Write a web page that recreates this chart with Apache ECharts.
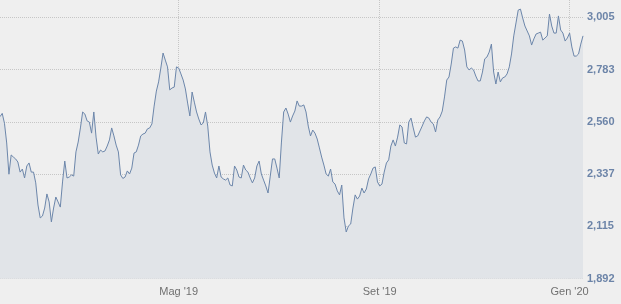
<!DOCTYPE html>
<html><head><meta charset="utf-8">
<script src="https://cdn.jsdelivr.net/npm/echarts@6/dist/echarts.min.js"></script>
<style>html,body{margin:0;padding:0;background:#efefef}#c{width:621px;height:304px}</style>
</head><body><div id="c"></div>
<script>
const values = [
2582,2596,2554,2470,2337,2419,2410,2402,2389,2346,
2359,2321,2372,2385,2346,2346,2300,2206,2151,2159,
2193,2253,2219,2134,2193,2240,2219,2197,2304,2393,
2321,2325,2334,2329,2432,2474,2534,2602,2593,2564,
2559,2512,2602,2495,2423,2440,2432,2436,2457,2483,
2534,2500,2461,2432,2334,2319,2325,2351,2338,2363,
2427,2432,2461,2500,2508,2512,2530,2534,2551,2627,
2691,2730,2789,2853,2823,2794,2696,2704,2708,2794,
2789,2764,2738,2700,2640,2585,2687,2644,2602,2572,
2547,2555,2602,2542,2432,2376,2342,2321,2372,2325,
2317,2312,2321,2291,2287,2372,2355,2325,2321,2376,
2355,2346,2321,2300,2321,2372,2393,2338,2312,2287,
2257,2329,2402,2402,2363,2321,2474,2602,2619,2593,
2559,2585,2606,2649,2627,2627,2632,2602,2542,2500,
2525,2512,2487,2449,2410,2376,2338,2329,2359,2304,
2295,2266,2249,2291,2151,2091,2117,2125,2193,2249,
2231,2244,2278,2257,2274,2317,2338,2363,2368,2304,
2287,2295,2346,2385,2398,2457,2483,2457,2495,2547,
2538,2470,2466,2559,2576,2534,2495,2500,2521,2542,
2564,2581,2576,2559,2551,2517,2568,2581,2606,2666,
2738,2751,2806,2874,2879,2874,2908,2904,2866,2794,
2781,2789,2781,2755,2734,2734,2772,2828,2836,2857,
2891,2772,2721,2772,2730,2747,2751,2764,2794,2849,
2926,2981,3036,3040,3002,2968,2947,2926,2887,2913,
2934,2938,2942,2908,2917,2926,3019,2968,2938,2938,
3011,2951,2938,2904,2917,2938,2879,2840,2840,2849,
2891,2926
];
const categories = values.map((_, i) => 'd' + i);
const tickLabels = ["Mag '19", "Set '19", "Gen '20"];
const tickPositions = [80, 170, 255];
const yMin = 1892.1, yMax = 3078.8, yHalfStep = 111.3;

const fmt = v => Math.round(v).toString().replace(/\B(?=(\d{3})+(?!\d))/g, ',');
const isTick = i => tickPositions.indexOf(i) >= 0;

const chart = echarts.init(document.getElementById('c'), null, {renderer: 'canvas'});
chart.setOption({
  backgroundColor: '#efefef',
  animation: false,
  grid: {left: 0, right: 38, top: 0, bottom: 25.3, containLabel: false},
  xAxis: {
    type: 'category',
    data: categories,
    boundaryGap: false,
    axisLine: {show: false},
    axisTick: {show: false},
    axisLabel: {
      interval: (i) => isTick(i),
      formatter: (v, i) => { const k = tickPositions.indexOf(i); return k >= 0 ? tickLabels[k] : ''; },
      color: '#707070', fontSize: 11, fontFamily: 'Liberation Sans, Arial, sans-serif', margin: 8
    },
    splitLine: {
      show: true,
      interval: (i) => isTick(i),
      lineStyle: {color: '#c6c6c6', type: 'dotted', width: 1}
    }
  },
  yAxis: {
    type: 'value',
    position: 'right',
    min: yMin, max: yMax, interval: yHalfStep,
    axisLine: {show: false},
    axisTick: {show: false},
    axisLabel: {
      formatter: (v) => {
        const k = Math.round((v - yMin) / yHalfStep);
        return (k % 2 === 0 && v <= 3005.2) ? fmt(v) : '';
      },
      color: '#6c84a8', fontSize: 11, fontWeight: 'bold', fontFamily: 'Liberation Sans, Arial, sans-serif', margin: 4
    },
    splitLine: {
      show: true,
      lineStyle: {color: ['#c6c6c6', 'rgba(0,0,0,0)'], type: 'dotted', width: 1}
    }
  },
  series: [{
    type: 'line',
    data: values,
    symbol: 'none',
    lineStyle: {color: '#6c86aa', width: 1},
    areaStyle: {color: '#e1e4e8', opacity: 1}
  }]
});
</script>
</body></html>
